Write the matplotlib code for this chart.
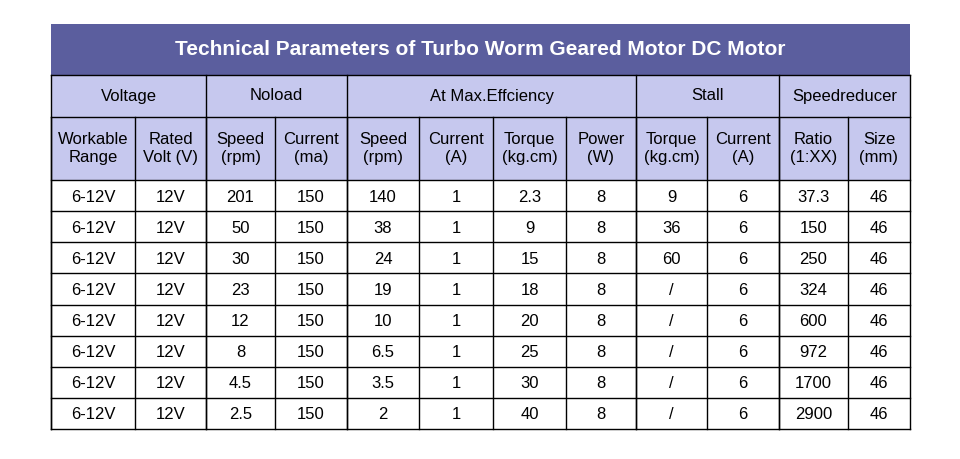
import matplotlib
matplotlib.use("Agg")
import matplotlib.pyplot as plt
from matplotlib.patches import Rectangle

plt.rcParams['font.family'] = ['Liberation Sans', 'DejaVu Sans']

title = "Technical Parameters of Turbo Worm Geared Motor DC Motor"
groups = [("Voltage", 2), ("Noload", 2), ("At Max.Effciency", 4), ("Stall", 2), ("Speedreducer", 2)]
subheaders = ["Workable\nRange", "Rated\nVolt (V)", "Speed\n(rpm)", "Current\n(ma)", "Speed\n(rpm)",
              "Current\n(A)", "Torque\n(kg.cm)", "Power\n(W)", "Torque\n(kg.cm)", "Current\n(A)",
              "Ratio\n(1:XX)", "Size\n(mm)"]
workable = ["6-12V"] * 8
rated = ["12V"] * 8
noload_speed = ["201", "50", "30", "23", "12", "8", "4.5", "2.5"]
noload_current = ["150"] * 8
eff_speed = ["140", "38", "24", "19", "10", "6.5", "3.5", "2"]
eff_current = ["1"] * 8
eff_torque = ["2.3", "9", "15", "18", "20", "25", "30", "40"]
eff_power = ["8"] * 8
stall_torque = ["9", "36", "60", "/", "/", "/", "/", "/"]
stall_current = ["6"] * 8
ratio = ["37.3", "150", "250", "324", "600", "972", "1700", "2900"]
size = ["46"] * 8
columns = [workable, rated, noload_speed, noload_current, eff_speed, eff_current,
           eff_torque, eff_power, stall_torque, stall_current, ratio, size]

xs = [51, 135, 206, 275, 347, 419, 493, 566, 636, 707, 779, 848, 910]
y_title, y_grp, y_sub, y_data, y_end = 24, 75, 117, 180, 429
nrows = len(ratio)
rh = (y_end - y_data) / nrows

fig = plt.figure(figsize=(9.6, 4.59), dpi=100)
ax = fig.add_axes([0, 0, 1, 1])
ax.set_xlim(0, 960); ax.set_ylim(459, 0); ax.axis('off')

TITLE_BG = "#5b5e9e"; HEAD_BG = "#c6c8ee"; LW = 1.0
ax.add_patch(Rectangle((xs[0], y_title), xs[-1]-xs[0], y_grp-y_title, fc=TITLE_BG, ec='none'))
ax.text((xs[0]+xs[-1])/2, (y_title+y_grp)/2, title, color='white', fontsize=15,
        ha='center', va='center', fontweight='bold')
ax.add_patch(Rectangle((xs[0], y_grp), xs[-1]-xs[0], y_data-y_grp, fc=HEAD_BG, ec='none'))

fs = 12
i = 0
for name, span in groups:
    x0, x1 = xs[i], xs[i+span]
    ax.text((x0+x1)/2, (y_grp+y_sub)/2, name, fontsize=fs, ha='center', va='center')
    ax.plot([x0, x0], [y_grp, y_end], color='black', lw=LW)
    i += span
for j, s in enumerate(subheaders):
    ax.text((xs[j]+xs[j+1])/2, (y_sub+y_data)/2, s, fontsize=fs, ha='center', va='center',
            linespacing=1.3)
    ax.plot([xs[j], xs[j]], [y_sub, y_end], color='black', lw=LW)
ax.plot([xs[-1], xs[-1]], [y_grp, y_end], color='black', lw=LW)
for y in [y_grp, y_sub, y_data]:
    ax.plot([xs[0], xs[-1]], [y, y], color='black', lw=LW)
for r in range(nrows):
    yb = y_data + (r+1)*rh
    ax.plot([xs[0], xs[-1]], [yb, yb], color='black', lw=LW)
    for j, col in enumerate(columns):
        ax.text((xs[j]+xs[j+1])/2, y_data + (r+0.55)*rh, col[r], fontsize=fs,
                ha='center', va='center')

fig.savefig("out.png", dpi=100)
